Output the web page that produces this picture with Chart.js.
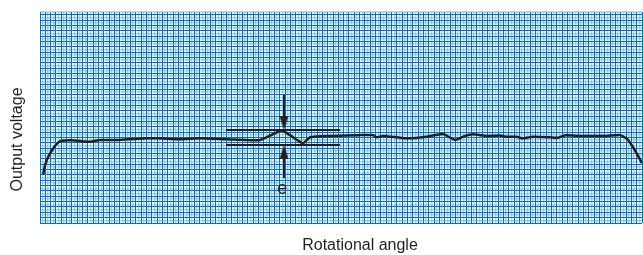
<!DOCTYPE html>
<html>
<head>
<meta charset="utf-8">
<script src="https://cdn.jsdelivr.net/npm/chart.js@4/dist/chart.umd.min.js"></script>
<style>
  html, body { margin: 0; padding: 0; background: #fff; }
  #wrap { width: 643px; height: 255px; }
</style>
</head>
<body>
<div id="wrap"><canvas id="chart" width="643" height="255"></canvas></div>
<script>
// Values, in grid units (one unit = half a dark grid square)
const angle = [1.2, 1.9, 3.1, 5.0, 6.9, 8.1, 12, 18.8, 22.5, 30, 40, 45, 52, 60.1, 70.1, 82.6,
  90.7, 93.8, 98.7, 101.4, 110, 120.1, 125, 126.4, 128.8, 137.6, 145.2, 151.3, 155.8, 159.5,
  162.5, 167.7, 172.7, 175.2, 178.9, 181.3, 185.1, 191.4, 194.4, 197.1, 202.7, 212.7, 217.7,
  220.2, 222.1, 224, 226];
const voltage = [18.2, 21.7, 24.8, 28.0, 30.2, 30.8, 31.0, 30.4, 31.1, 31.1, 31.7, 31.7, 31.4, 31.7, 31.4, 31.1,
  34.6, 32.9, 29.8, 32.1, 32.6, 32.9, 32.9, 32.1, 32.6, 31.7, 32.3, 33.3, 31.1, 32.6,
  33.2, 32.6, 32.8, 32.3, 32.3, 31.7, 32.3, 32.1, 31.9, 32.8, 32.6, 32.6, 32.9,
  31.7, 29.2, 26.1, 22.4];

// ripple band "e"
const bandX = [69.8, 112.6];
const bandTop = 34.8;
const bandBottom = 29.2;
const arrowX = 91.6;
const arrowDownY = [47.9, 37.4];
const arrowUpY = [16.8, 26.6];
const eLabel = { x: 90.9, y: 10.9, text: 'e' };

const xRange = [0, 226];
const yRange = [0, 79];

const ink = '#231f20';
const gridDark = '#0072bd';
const gridLight = 'rgba(0,120,200,0.3)';

function arrowHead(down) {
  const c = document.createElement('canvas');
  c.width = 9; c.height = 14;
  const g = c.getContext('2d');
  g.fillStyle = ink;
  g.beginPath();
  if (down) { g.moveTo(0, 0); g.lineTo(9, 0); g.lineTo(4.5, 14); }
  else { g.moveTo(4.5, 0); g.lineTo(9, 14); g.lineTo(0, 14); }
  g.closePath();
  g.fill();
  return c;
}

const trace = angle.map((a, i) => ({ x: a, y: voltage[i] }));

// axis titles and the "e" label
const labelsPlugin = {
  id: 'labels',
  afterDraw(chart) {
    const ctx = chart.ctx;
    ctx.save();
    ctx.fillStyle = ink;
    ctx.font = '16px "Liberation Sans", Arial, sans-serif';
    ctx.textAlign = 'center';
    ctx.textBaseline = 'alphabetic';
    ctx.fillText('Rotational angle', 360, 250);
    ctx.save();
    ctx.translate(21.5, 139.5);
    ctx.rotate(-Math.PI / 2);
    ctx.fillText('Output voltage', 0, 0);
    ctx.restore();
    ctx.font = '18px "Liberation Sans Narrow", "Liberation Sans", sans-serif';
    ctx.fillText(eLabel.text, chart.scales.x.getPixelForValue(eLabel.x), chart.scales.y.getPixelForValue(eLabel.y));
    ctx.restore();
  }
};

const gridColor = c => (c.tick && Math.round(c.tick.value) % 2 === 0) ? gridDark : gridLight;
const gridWidth = c => (c.tick && Math.round(c.tick.value) % 2 === 0) ? 1 : 1.5;

new Chart(document.getElementById('chart'), {
  type: 'line',
  data: {
    datasets: [
      { data: trace, borderColor: ink, borderWidth: 2.5, pointRadius: 0, tension: 0.15 },
      { data: bandX.map(x => ({ x: x, y: bandTop })), borderColor: ink, borderWidth: 2, pointRadius: 0 },
      { data: bandX.map(x => ({ x: x, y: bandBottom })), borderColor: ink, borderWidth: 2, pointRadius: 0 },
      { data: arrowDownY.map(y => ({ x: arrowX, y: y })), borderColor: ink, borderWidth: 2,
        pointRadius: [0, 5], pointStyle: arrowHead(true) },
      { data: arrowUpY.map(y => ({ x: arrowX, y: y })), borderColor: ink, borderWidth: 2,
        pointRadius: [0, 5], pointStyle: arrowHead(false) }
    ]
  },
  options: {
    responsive: false,
    animation: false,
    layout: { autoPadding: false, padding: { left: 40, top: 12, right: 1, bottom: 32 } },
    plugins: { legend: { display: false }, tooltip: { enabled: false } },
    scales: {
      x: {
        type: 'linear', min: xRange[0], max: xRange[1],
        ticks: { display: false, stepSize: 1 },
        border: { display: false },
        grid: { drawTicks: false, color: gridColor, lineWidth: gridWidth }
      },
      y: {
        type: 'linear', min: yRange[0], max: yRange[1],
        ticks: { display: false, stepSize: 1 },
        border: { display: false },
        grid: { drawTicks: false, color: gridColor, lineWidth: gridWidth }
      }
    }
  },
  plugins: [labelsPlugin]
});
</script>
</body>
</html>
